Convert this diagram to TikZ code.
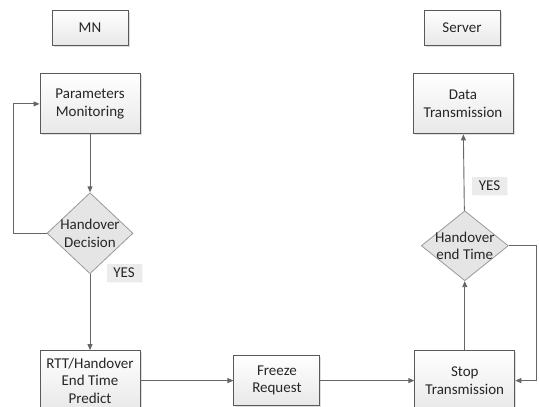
\documentclass[tikz,border=0pt]{standalone}
\usepackage{fontspec}
\setmainfont{Carlito}
\usepackage{tikz}
\usetikzlibrary{arrows.meta, positioning, shapes.geometric, shadows}

\begin{document}
\begin{tikzpicture}[
  x=1pt, y=-1pt,
  txt/.style={align=center, text=black!85, font=\fontsize{15}{17.5}\selectfont},
  box/.style={rectangle, draw=black!65, line width=0.9pt, txt,
    top color=white, bottom color=black!9,
    drop shadow={shadow xshift=1.5pt, shadow yshift=-1.5pt, fill=black!25},
    minimum width=100pt, minimum height=60pt, inner sep=0pt},
  smallbox/.style={box, minimum width=86pt, minimum height=50pt},
  hdr/.style={box, minimum width=76pt, minimum height=35pt},
  dec/.style={diamond, draw=black!40, line width=0.8pt, fill=black!10,
    inner sep=0pt, minimum width=86pt, minimum height=81pt},
  yesbox/.style={txt, fill=black!8, inner sep=0pt, minimum width=35pt, minimum height=18pt,
    drop shadow={shadow xshift=1pt, shadow yshift=-1pt, fill=black!5}},
  arr/.style={-{Triangle[length=6pt, width=5pt]}, draw=black!60, line width=0.9pt}
]
\useasboundingbox (0,0) rectangle (539,407);

\node[hdr] (mn) at (90,27.5) {MN};
\node[hdr] (srv) at (462,27.5) {Server};
\node[box, below=28pt of mn] (par) {Parameters\\Monitoring};
\node[box] (data) at (par -| 463,0) {Data\\Transmission};
\node[dec, below=58pt of par, label={[txt]center:Handover\\Decision}] (hd) {};
\node[box, below=76pt of hd] (rtt) {RTT/Handover\\End Time\\Predict};
\node[smallbox, right=93pt of rtt] (frz) {Freeze\\Request};
\node[box, right=94pt of frz] (stop) {Stop\\Transmission};
\node[dec, minimum width=87pt, minimum height=70pt, above=69pt of stop,
  label={[txt]center:Handover\\end Time}] (het) {};
\node[yesbox] (yes1) at (124,273) {YES};
\node[yesbox] (yes2) at (489.5,185.5) {YES};

\draw[arr] (par) -- (hd);
\draw[arr] (hd) -- (rtt);
\draw[arr] (rtt) -- (frz);
\draw[arr] (frz) -- (stop);
\draw[arr] (stop) -- (het);
\draw[arr] (het) -- (data);
\draw[arr] (hd.west) -- ++(-33,0) |- (par.west);
\draw[arr] (het.east) -- ++(28,0) |- (stop.east);
\end{tikzpicture}
\end{document}
